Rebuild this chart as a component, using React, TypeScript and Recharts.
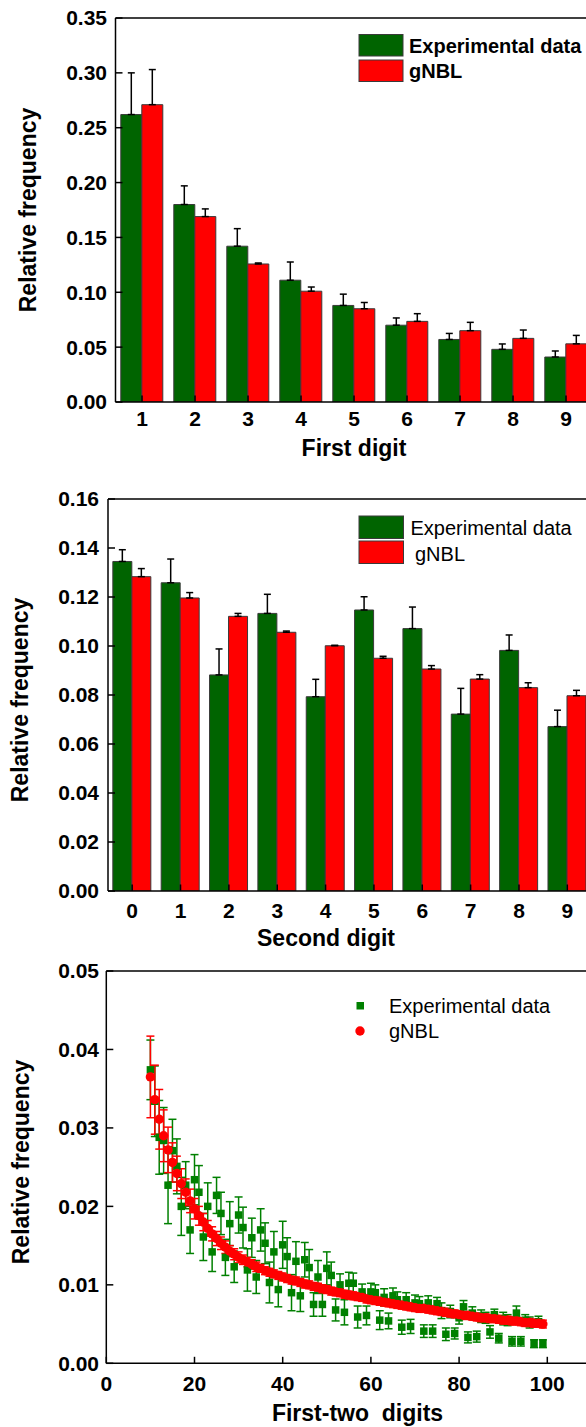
import React from 'react';
import { BarChart, Bar, ScatterChart, Scatter, XAxis, YAxis, ErrorBar } from 'recharts';

// ---- First digit panel ----
const firstDigits = ['1', '2', '3', '4', '5', '6', '7', '8', '9'];
const firstExp = [0.262, 0.180, 0.142, 0.111, 0.088, 0.070, 0.057, 0.048, 0.041];
const firstExpErr = [0.038, 0.017, 0.016, 0.0166, 0.0103, 0.0066, 0.0055, 0.0049, 0.0055];
const firstGnbl = [0.271, 0.169, 0.1258, 0.101, 0.085, 0.0735, 0.065, 0.058, 0.053];
const firstGnblErr = [0.032, 0.007, 0.0009, 0.0038, 0.0057, 0.007, 0.0076, 0.0076, 0.0077];
const firstYTicks = [0, 0.05, 0.1, 0.15, 0.2, 0.25, 0.3, 0.35];
const firstYMinor = [0.025, 0.075, 0.125, 0.175, 0.225, 0.275, 0.325];

// ---- Second digit panel ----
const secondDigits = ['0', '1', '2', '3', '4', '5', '6', '7', '8', '9'];
const secondExp = [0.1345, 0.1258, 0.0882, 0.1133, 0.0793, 0.1147, 0.1071, 0.0722, 0.0982, 0.0671];
const secondExpErr = [0.0048, 0.0097, 0.0106, 0.0078, 0.0071, 0.0054, 0.0088, 0.0105, 0.0063, 0.0067];
const secondGnbl = [0.1283, 0.1196, 0.1121, 0.1056, 0.1001, 0.095, 0.0906, 0.0865, 0.083, 0.0797];
const secondGnblErr = [0.0033, 0.0022, 0.0012, 0.0005, 0.0002, 0.0008, 0.0014, 0.0018, 0.002, 0.0022];
const secondYTicks = [0, 0.02, 0.04, 0.06, 0.08, 0.1, 0.12, 0.14, 0.16];
const secondYMinor = [0.01, 0.03, 0.05, 0.07, 0.09, 0.11, 0.13, 0.15];

// ---- First-two digits panel ----
const firstTwoDigits = [
  10, 11, 12, 13, 14, 15, 16, 17, 18, 19, 20, 21, 22, 23, 24, 25, 26, 27, 28, 29,
  30, 31, 32, 33, 34, 35, 36, 37, 38, 39, 40, 41, 42, 43, 44, 45, 46, 47, 48, 49,
  50, 51, 52, 53, 54, 55, 56, 57, 58, 59, 60, 61, 62, 63, 64, 65, 66, 67, 68, 69,
  70, 71, 72, 73, 74, 75, 76, 77, 78, 79, 80, 81, 82, 83, 84, 85, 86, 87, 88, 89,
  90, 91, 92, 93, 94, 95, 96, 97, 98, 99,
];
const twoExp = [
  0.0374, 0.0334, 0.0288, 0.0284, 0.0227, 0.0271, 0.0251, 0.02, 0.0227, 0.017,
  0.0234, 0.0218, 0.0161, 0.02, 0.0142, 0.0214, 0.0191, 0.0135, 0.0178, 0.0123,
  0.0189, 0.0173, 0.0119, 0.016, 0.011, 0.017, 0.0153, 0.0103, 0.0142, 0.0094,
  0.0151, 0.0136, 0.009, 0.013, 0.0086, 0.0132, 0.0122, 0.0075, 0.011, 0.0075,
  0.0121, 0.0112, 0.0068, 0.01, 0.0065, 0.0102, 0.0102, 0.0059, 0.0091, 0.0061,
  0.0091, 0.009, 0.0055, 0.0084, 0.0054, 0.0086, 0.0081, 0.0046, 0.0081, 0.0047,
  0.0077, 0.0076, 0.0041, 0.0077, 0.0041, 0.0076, 0.0067, 0.0037, 0.0066, 0.0038,
  0.0058, 0.0072, 0.0033, 0.0064, 0.0034, 0.006, 0.0058, 0.004, 0.0062, 0.0032,
  0.0057, 0.0055, 0.0028, 0.0064, 0.0028, 0.0055, 0.0052, 0.0025, 0.0053, 0.0025,
];
const twoExpErr = [
  0.0038, 0.0045, 0.0047, 0.0042, 0.0049, 0.004, 0.0035, 0.0037, 0.003, 0.003,
  0.0032, 0.0034, 0.003, 0.003, 0.0025, 0.0023, 0.0027, 0.0023, 0.0028, 0.002,
  0.0023, 0.0026, 0.0027, 0.0025, 0.0021, 0.0027, 0.0026, 0.0026, 0.0026, 0.0022,
  0.003, 0.0024, 0.0023, 0.0025, 0.002, 0.0022, 0.0023, 0.0015, 0.0021, 0.0015,
  0.0021, 0.0017, 0.0014, 0.0014, 0.0016, 0.0014, 0.0013, 0.0014, 0.001, 0.0012,
  0.0011, 0.001, 0.0012, 0.0011, 0.001, 0.001, 0.001, 0.0009, 0.0009, 0.0009,
  0.001, 0.0009, 0.0008, 0.0009, 0.0008, 0.0008, 0.001, 0.0008, 0.0008, 0.0007,
  0.0008, 0.0008, 0.0007, 0.0008, 0.0007, 0.0008, 0.0007, 0.0008, 0.0007, 0.0006,
  0.0008, 0.0007, 0.0006, 0.0009, 0.0006, 0.0007, 0.0007, 0.0005, 0.0007, 0.0005,
];
const twoGnbl = [
  0.0365, 0.0336, 0.0311, 0.029, 0.0272, 0.0256, 0.0242, 0.0229, 0.0218, 0.0207,
  0.0197, 0.0188, 0.018, 0.0172, 0.0165, 0.0159, 0.0153, 0.0148, 0.0143, 0.0139,
  0.0135, 0.0132, 0.0129, 0.0126, 0.0123, 0.0121, 0.0118, 0.0116, 0.0114, 0.0112,
  0.011, 0.0108, 0.0106, 0.0105, 0.0103, 0.0101, 0.01, 0.0098, 0.0097, 0.0095,
  0.0094, 0.0092, 0.0091, 0.009, 0.0088, 0.0087, 0.0086, 0.0085, 0.0084, 0.0082,
  0.0081, 0.008, 0.0079, 0.0078, 0.0077, 0.0076, 0.0075, 0.0074, 0.0073, 0.0072,
  0.0071, 0.007, 0.007, 0.0069, 0.0068, 0.0067, 0.0066, 0.0065, 0.0064, 0.0063,
  0.0062, 0.0061, 0.0061, 0.006, 0.0059, 0.0058, 0.0058, 0.0057, 0.0057, 0.0056,
  0.0055, 0.0055, 0.0054, 0.0054, 0.0053, 0.0052, 0.0052, 0.0051, 0.0051, 0.005,
];
const twoGnblErr = [
  0.0052, 0.0044, 0.0038, 0.0033, 0.0029, 0.0025, 0.0022, 0.0019, 0.0017, 0.0015,
  0.0013, 0.0012, 0.0011, 0.001, 0.0009, 0.0009, 0.0008, 0.0008, 0.0007, 0.0007,
  0.0007, 0.0006, 0.0006, 0.0006, 0.0006, 0.0005, 0.0005, 0.0005, 0.0005, 0.0005,
  0.0005, 0.0005, 0.0005, 0.0005, 0.0005, 0.0005, 0.0005, 0.0005, 0.0005, 0.0005,
  0.0005, 0.0005, 0.0005, 0.0005, 0.0005, 0.0005, 0.0005, 0.0005, 0.0005, 0.0005,
  0.0005, 0.0005, 0.0005, 0.0005, 0.0005, 0.0005, 0.0005, 0.0005, 0.0005, 0.0005,
  0.0005, 0.0005, 0.0005, 0.0005, 0.0005, 0.0005, 0.0005, 0.0005, 0.0005, 0.0005,
  0.0005, 0.0005, 0.0005, 0.0005, 0.0005, 0.0005, 0.0005, 0.0005, 0.0005, 0.0005,
  0.0005, 0.0005, 0.0005, 0.0005, 0.0005, 0.0005, 0.0005, 0.0005, 0.0005, 0.0005,
];
const twoXTicks = [0, 20, 40, 60, 80, 100];
const twoXMinor = [10, 30, 50, 70, 90, 110];
const twoYTicks = [0, 0.01, 0.02, 0.03, 0.04, 0.05];
const twoYMinor = [0.005, 0.015, 0.025, 0.035, 0.045];

const firstData = firstDigits.map((d, i) => ({
  digit: d,
  exp: firstExp[i],
  expErr: [0, firstExpErr[i]],
  gnbl: firstGnbl[i],
  gnblErr: [0, firstGnblErr[i]],
}));
const secondData = secondDigits.map((d, i) => ({
  digit: d,
  exp: secondExp[i],
  expErr: [0, secondExpErr[i]],
  gnbl: secondGnbl[i],
  gnblErr: [0, secondGnblErr[i]],
}));
const expPoints = firstTwoDigits.map((d, i) => ({ x: d, y: twoExp[i], e: twoExpErr[i] }));
const gnblPoints = firstTwoDigits.map((d, i) => ({ x: d, y: twoGnbl[i], e: twoGnblErr[i] }));

const FONT = "'Liberation Sans', Arial, sans-serif";
const BAR_GREEN = '#006400';
const BAR_RED = '#ff0000';
const DOT_GREEN = '#008000';
const tickText = { fill: '#000', fontSize: 21, fontWeight: 'bold', fontFamily: FONT };
const axisLine = { stroke: '#000', strokeWidth: 1.5 };
const tickLine = { stroke: '#000', strokeWidth: 1.5 };
const fmt2 = (v: number) => v.toFixed(2);

// frame axes drawn on every side: majors with inward ticks, minors shorter
const frameY = (domain: number[], major: number[], minor: number[], margin: number, dataKey?: string) => [
  <YAxis key="yl" yAxisId={0} dataKey={dataKey} width={1} type="number" domain={domain} allowDataOverflow ticks={major}
    interval={0} tickSize={-7} tickMargin={margin} tickFormatter={fmt2} tick={tickText}
    axisLine={axisLine} tickLine={tickLine} stroke="#000" />,
  <YAxis key="ylm" yAxisId="lm" width={1} type="number" domain={domain} allowDataOverflow ticks={minor}
    interval={0} tickSize={-4} tick={false} axisLine={false} tickLine={tickLine} stroke="#000" />,
  <YAxis key="yr" yAxisId="r" orientation="right" width={1} type="number" domain={domain} allowDataOverflow
    ticks={major} interval={0} tickSize={-7} tick={false} axisLine={axisLine} tickLine={tickLine} stroke="#000" />,
  <YAxis key="yrm" yAxisId="rm" orientation="right" width={1} type="number" domain={domain} allowDataOverflow
    ticks={minor} interval={0} tickSize={-4} tick={false} axisLine={false} tickLine={tickLine} stroke="#000" />,
];

const catMinor = (n: number) => {
  const out: number[] = [];
  for (let i = 1; i < n; i++) out.push(i + 0.5);
  return out;
};

const frameCatX = (n: number, margin: number) => [
  <XAxis key="xb" xAxisId={0} dataKey="digit" height={1} interval={0} tickSize={-6.5} tickMargin={margin}
    tick={tickText} axisLine={axisLine} tickLine={tickLine} stroke="#000" />,
  <XAxis key="xbm" xAxisId="bm" type="number" domain={[0.5, n + 0.5]} allowDataOverflow ticks={catMinor(n)}
    height={1} interval={0} tickSize={-4} tick={false} axisLine={false} tickLine={tickLine} stroke="#000" />,
  <XAxis key="xt" xAxisId="t" orientation="top" dataKey="digit" height={1} interval={0} tickSize={-6.5}
    tick={false} axisLine={axisLine} tickLine={tickLine} stroke="#000" />,
  <XAxis key="xtm" xAxisId="tm" orientation="top" type="number" domain={[0.5, n + 0.5]} allowDataOverflow
    ticks={catMinor(n)} height={1} interval={0} tickSize={-4} tick={false} axisLine={false} tickLine={tickLine} stroke="#000" />,
];

const Square = (p: any) => <rect x={p.cx - 3.75} y={p.cy - 3.75} width={7.5} height={7.5} fill={DOT_GREEN} />;
const Dot = (p: any) => <circle cx={p.cx} cy={p.cy} r={4.7} fill={BAR_RED} />;
const Nothing = () => <g />;

const BarPanel = ({ data, n, domain, major, minor, yMargin, xMargin, margin }: any) => (
  <BarChart width={620} height={470} data={data} margin={margin} barCategoryGap="10%" barGap={0}>
    {frameCatX(n, xMargin)}
    {frameY(domain, major, minor, yMargin)}
    <Bar dataKey="exp" fill={BAR_GREEN} stroke="#3a3a3a" strokeWidth={1} isAnimationActive={false}>
      <ErrorBar dataKey="expErr" width={3.5} stroke="#000" strokeWidth={1.5} />
    </Bar>
    <Bar dataKey="gnbl" fill={BAR_RED} stroke="#3a3a3a" strokeWidth={1} isAnimationActive={false}>
      <ErrorBar dataKey="gnblErr" width={3.5} stroke="#000" strokeWidth={1.5} />
    </Bar>
  </BarChart>
);

const Overlay = () => {
  const bold = { fontFamily: FONT, fontWeight: 'bold', fill: '#000' } as const;
  const reg = { fontFamily: FONT, fill: '#000' } as const;
  return (
    <svg width={586} height={1427} style={{ position: 'absolute', left: 0, top: 0, pointerEvents: 'none' }}>
      {/* panel 1 */}
      <text x={36} y={210} fontSize={23} textAnchor="middle" transform="rotate(-90 36 210)" style={bold}>Relative frequency</text>
      <text x={354} y={456} fontSize={23} textAnchor="middle" style={bold}>First digit</text>
      <rect x={359} y={34.5} width={44} height={21.5} fill={BAR_GREEN} stroke="#3a3a3a" />
      <rect x={359} y={60} width={44} height={21.5} fill={BAR_RED} stroke="#3a3a3a" />
      <text x={409} y={52.5} fontSize={20} style={bold}>Experimental data</text>
      <text x={409} y={77.5} fontSize={20} style={bold}>gNBL</text>
      {/* panel 2 */}
      <text x={28} y={700} fontSize={23} textAnchor="middle" transform="rotate(-90 28 700)" style={bold}>Relative frequency</text>
      <text x={326} y={946} fontSize={23} textAnchor="middle" style={bold}>Second digit</text>
      <rect x={359} y={516} width={44.5} height={22.5} fill={BAR_GREEN} stroke="#3a3a3a" />
      <rect x={359} y={541} width={44.5} height={22.5} fill={BAR_RED} stroke="#3a3a3a" />
      <text x={410.5} y={534.5} fontSize={20} style={reg}>Experimental data</text>
      <text x={415} y={561} fontSize={20} style={reg}>gNBL</text>
      {/* panel 3 */}
      <text x={29} y={1162} fontSize={23} textAnchor="middle" transform="rotate(-90 29 1162)" style={bold}>Relative frequency</text>
      <text x={357.5} y={1421} fontSize={23} textAnchor="middle" style={{ ...bold, whiteSpace: 'pre' }}>First-two  digits</text>
      <rect x={356.5} y={1002} width={7.5} height={7.5} fill={DOT_GREEN} />
      <circle cx={360} cy={1031} r={4.7} fill={BAR_RED} />
      <text x={389} y={1012.5} fontSize={20} style={reg}>Experimental data</text>
      <text x={389} y={1037.5} fontSize={20} style={reg}>gNBL</text>
    </svg>
  );
};

export default function App() {
  return (
    <div style={{ position: 'absolute', left: 0, top: 0, width: 586, height: 1427, overflow: 'hidden', background: '#fff' }}>
      <div style={{ position: 'absolute', left: 0, top: 0 }}>
        <BarPanel data={firstData} n={9} domain={[0, 0.35]} major={firstYTicks} minor={firstYMinor}
          yMargin={15.5} xMargin={16} margin={{ top: 16, right: 25.5, bottom: 66, left: 113.5 }} />
      </div>
      <div style={{ position: 'absolute', left: 0, top: 480 }}>
        <BarPanel data={secondData} n={10} domain={[0, 0.16]} major={secondYTicks} minor={secondYMinor}
          yMargin={16} xMargin={18.5} margin={{ top: 17, right: 26.5, bottom: 57, left: 106 }} />
      </div>
      <div style={{ position: 'absolute', left: 0, top: 955 }}>
        <ScatterChart width={620} height={472} margin={{ top: 14, right: 26.6, bottom: 61.7, left: 104.3 }}>
          <XAxis xAxisId={0} dataKey="x" type="number" domain={[0, 110]} allowDataOverflow ticks={twoXTicks}
            height={1} interval={0} tickSize={-6.5} tickMargin={19} tick={tickText} axisLine={axisLine} tickLine={tickLine} stroke="#000" />
          <XAxis xAxisId="bm" type="number" domain={[0, 110]} allowDataOverflow ticks={twoXMinor}
            height={1} interval={0} tickSize={-4} tick={false} axisLine={false} tickLine={tickLine} stroke="#000" />
          <XAxis xAxisId="t" orientation="top" type="number" domain={[0, 110]} allowDataOverflow ticks={twoXTicks}
            height={1} interval={0} tickSize={-6.5} tick={false} axisLine={axisLine} tickLine={tickLine} stroke="#000" />
          <XAxis xAxisId="tm" orientation="top" type="number" domain={[0, 110]} allowDataOverflow ticks={twoXMinor}
            height={1} interval={0} tickSize={-4} tick={false} axisLine={false} tickLine={tickLine} stroke="#000" />
          {frameY([0, 0.05], twoYTicks, twoYMinor, 14.3, 'y')}
          <Scatter data={expPoints} dataKey="y" shape={Square} isAnimationActive={false} />
          <Scatter data={gnblPoints} dataKey="y" shape={Dot} isAnimationActive={false} />
          <Scatter data={expPoints} dataKey="y" shape={Nothing} isAnimationActive={false}>
            <ErrorBar dataKey="e" direction="y" width={4} stroke={DOT_GREEN} strokeWidth={1.5} />
          </Scatter>
          <Scatter data={gnblPoints} dataKey="y" shape={Nothing} isAnimationActive={false}>
            <ErrorBar dataKey="e" direction="y" width={4} stroke={BAR_RED} strokeWidth={1.5} />
          </Scatter>
        </ScatterChart>
      </div>
      <Overlay />
    </div>
  );
}
